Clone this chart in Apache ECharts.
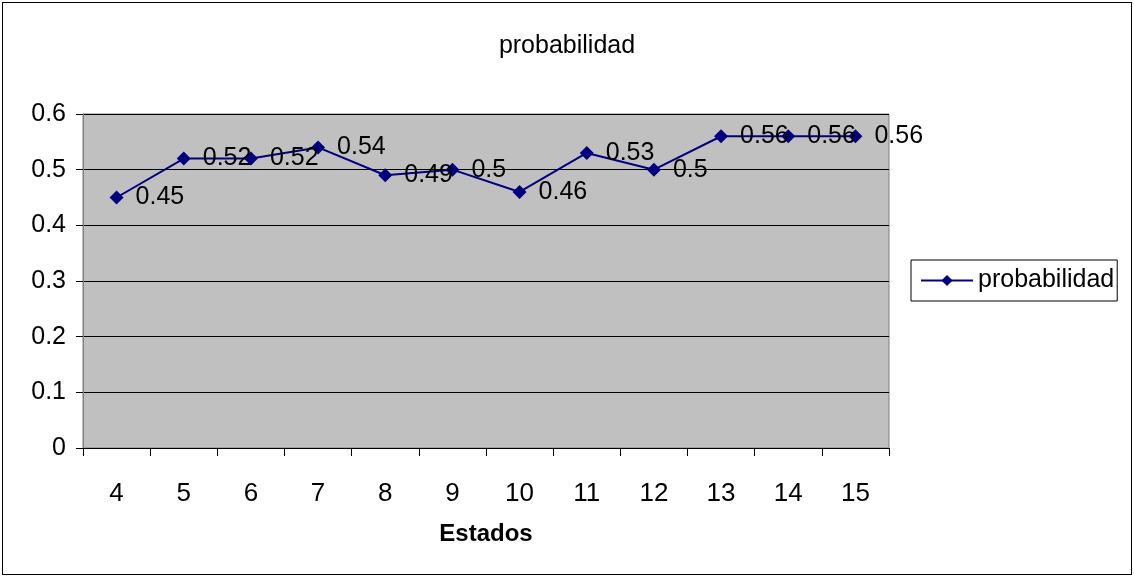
<!DOCTYPE html>
<html>
<head>
  <meta charset="UTF-8">
  <title>probabilidad</title>
  <script src="https://cdn.jsdelivr.net/npm/echarts@6/dist/echarts.min.js"></script>
  <style>
    html, body { margin: 0; padding: 0; background: #fff; }
    #main { position: absolute; left: 0; top: 0; width: 1134px; height: 577px; }
    #frame { position: absolute; left: 2px; top: 2px; width: 1128px; height: 571px;
             border: 1px solid #000; pointer-events: none; }
  </style>
</head>
<body>
  <div id="main"></div>
  <div id="frame"></div>
  <script>
    // estados en el eje x
    var estados = ['4', '5', '6', '7', '8', '9', '10', '11', '12', '13', '14', '15'];
    // probabilidad por estado
    var probabilidad = [0.45, 0.52, 0.52, 0.54, 0.49, 0.5, 0.46, 0.53, 0.5, 0.56, 0.56, 0.56];

    var font = '"Liberation Sans", Arial, sans-serif';
    var myChart = echarts.init(document.getElementById('main'));
    var option = {
      animation: false,
      textStyle: { fontFamily: font },
      title: {
        text: 'probabilidad',
        left: 'center',
        top: 29,
        textStyle: { fontFamily: font, fontSize: 25, fontWeight: 'normal', color: '#000' }
      },
      legend: {
        data: ['probabilidad'],
        left: 911,
        top: 260,
        orient: 'vertical',
        borderColor: '#000',
        borderWidth: 1,
        padding: [8, 3, 8, 9],
        itemWidth: 52,
        itemHeight: 14,
        itemGap: 4,
        textStyle: { fontFamily: font, fontSize: 25, color: '#000' }
      },
      grid: {
        left: 83,
        right: 245,
        top: 114,
        bottom: 129,
        show: true,
        backgroundColor: '#C0C0C0',
        borderColor: '#808080',
        borderWidth: 1
      },
      xAxis: {
        type: 'category',
        data: estados,
        boundaryGap: true,
        name: 'Estados',
        nameLocation: 'middle',
        nameGap: 74,
        nameTextStyle: { fontFamily: font, fontSize: 24, fontWeight: 'bold', color: '#000' },
        axisLine: { lineStyle: { color: '#000', width: 1 } },
        axisTick: { show: true, length: 8, alignWithLabel: false, lineStyle: { color: '#000' } },
        axisLabel: { fontFamily: font, fontSize: 26, color: '#000', margin: 33 },
        splitLine: { show: false }
      },
      yAxis: {
        type: 'value',
        min: 0,
        max: 0.6,
        interval: 0.1,
        axisLine: { show: true, lineStyle: { color: '#808080' } },
        axisTick: { show: true, length: 7, lineStyle: { color: '#000' } },
        axisLabel: { fontFamily: font, fontSize: 25, color: '#000', margin: 17 },
        splitLine: { show: true, lineStyle: { color: '#000', width: 1 } }
      },
      series: [{
        name: 'probabilidad',
        type: 'line',
        data: probabilidad,
        symbol: 'diamond',
        symbolSize: 14,
        itemStyle: { color: '#000080' },
        lineStyle: { color: '#000080', width: 2 },
        label: {
          show: true,
          position: 'right',
          distance: 12,
          fontFamily: font,
          fontSize: 25,
          color: '#000'
        }
      }]
    };
    myChart.setOption(option);
  </script>
</body>
</html>
